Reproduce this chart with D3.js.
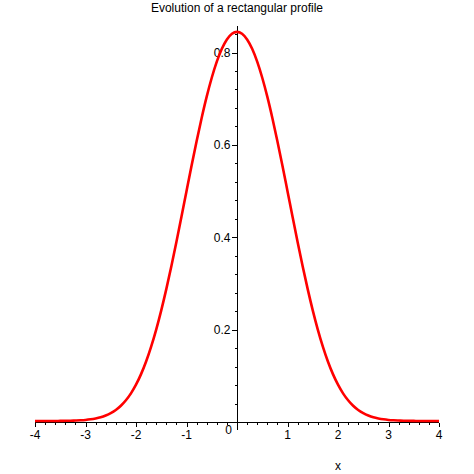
<!DOCTYPE html>
<html>
<head>
<meta charset="utf-8">
<script src="https://cdn.jsdelivr.net/npm/d3@7"></script>
<style>
html,body{margin:0;padding:0;background:#fff;}
svg{display:block;}
text{font-family:"Liberation Sans",Arial,sans-serif;fill:#000;}
</style>
</head>
<body>
<svg id="chart" width="474" height="474"></svg>
<script>
const title = "Evolution of a rectangular profile";
const xLabel = "x";
const xValues = [-4,-3.9,-3.8,-3.7,-3.6,-3.5,-3.4,-3.3,-3.2,-3.1,-3,-2.9,-2.8,-2.7,-2.6,-2.5,-2.4,-2.3,-2.2,-2.1,-2,-1.9,-1.8,-1.7,-1.6,-1.5,-1.4,-1.3,-1.2,-1.1,-1,-0.9,-0.8,-0.7,-0.6,-0.5,-0.4,-0.3,-0.2,-0.1,0,0.1,0.2,0.3,0.4,0.5,0.6,0.7,0.8,0.9,1,1.1,1.2,1.3,1.4,1.5,1.6,1.7,1.8,1.9,2,2.1,2.2,2.3,2.4,2.5,2.6,2.7,2.8,2.9,3,3.1,3.2,3.3,3.4,3.5,3.6,3.7,3.8,3.9,4];
const yValues = [0,0,0,0.0001,0.0001,0.0002,0.0004,0.0006,0.0010,0.0015,0.0023,0.0036,0.0055,0.0081,0.0119,0.0170,0.0239,0.0330,0.0449,0.0599,0.0786,0.1015,0.1289,0.1610,0.1979,0.2396,0.2855,0.3352,0.3877,0.4423,0.4977,0.5527,0.6059,0.6562,0.7024,0.7433,0.7781,0.8059,0.8262,0.8386,0.8427,0.8386,0.8262,0.8059,0.7781,0.7433,0.7024,0.6562,0.6059,0.5527,0.4977,0.4423,0.3877,0.3352,0.2855,0.2396,0.1979,0.1610,0.1289,0.1015,0.0786,0.0599,0.0449,0.0330,0.0239,0.0170,0.0119,0.0081,0.0055,0.0036,0.0023,0.0015,0.0010,0.0006,0.0004,0.0002,0.0001,0.0001,0,0,0];
const xTicks = [-4,-3,-2,-1,0,1,2,3,4];
const xMinorTicks = d3.range(-40,41,2).map(v=>v/10);
const yTicks = [0.2,0.4,0.6,0.8];
const yMinorTicks = d3.range(1,22).map(v=>v*0.04);

const svg = d3.select("#chart");
const x = d3.scaleLinear().domain([-4,4]).range([35,439]);
const y = d3.scaleLinear().domain([0,0.8575]).range([422,26]);
const x0 = Math.round(x(0))+0.5, y0 = Math.round(y(0))+0.5;

// title
svg.append("text").attr("x",237).attr("y",12).attr("text-anchor","middle")
  .attr("font-size",12).text(title);

const ax = svg.append("g").attr("stroke","#000").attr("stroke-width",1).attr("shape-rendering","crispEdges");
// x axis line
ax.append("line").attr("x1",x(-4)).attr("x2",x(4)).attr("y1",y0).attr("y2",y0);
// y axis line
ax.append("line").attr("x1",x0).attr("x2",x0).attr("y1",y(0.8575)).attr("y2",y0+7);
// x minor ticks
ax.selectAll(".xm").data(xMinorTicks).join("line")
  .attr("x1",d=>Math.round(x(d))+0.5).attr("x2",d=>Math.round(x(d))+0.5)
  .attr("y1",y0).attr("y2",y0+2.5);
// x major ticks
ax.selectAll(".xM").data(xTicks).join("line")
  .attr("x1",d=>Math.round(x(d))+0.5).attr("x2",d=>Math.round(x(d))+0.5)
  .attr("y1",y0).attr("y2",y0+4);
// y minor ticks
ax.selectAll(".ym").data(yMinorTicks.filter(v=>v<0.857)).join("line")
  .attr("x1",x0-3).attr("x2",x0)
  .attr("y1",d=>Math.round(y(d))+0.5).attr("y2",d=>Math.round(y(d))+0.5);
// y major ticks
ax.selectAll(".yM").data(yTicks).join("line")
  .attr("x1",x0-6).attr("x2",x0)
  .attr("y1",d=>Math.round(y(d))+0.5).attr("y2",d=>Math.round(y(d))+0.5);

// x tick labels
svg.selectAll(".xl").data(xTicks).join("text")
  .attr("x",d=> d===0 ? x0-9 : x(d))
  .attr("y",d=> d===0 ? y0+11 : y0+16)
  .attr("text-anchor","middle").attr("font-size",12)
  .text(d=>d<0 ? "-"+Math.abs(d) : String(d));
// y tick labels
svg.selectAll(".yl").data(yTicks).join("text")
  .attr("x",x0-7).attr("y",d=>y(d)+4.5)
  .attr("text-anchor","end").attr("font-size",12)
  .text(d=>d.toFixed(1));

// x label
svg.append("text").attr("x",338).attr("y",470).attr("text-anchor","middle")
  .attr("font-size",12).text(xLabel);

// curve
const pts = xValues.map((v,i)=>[v,yValues[i]]);
svg.append("path").datum(pts)
  .attr("fill","none").attr("stroke","#ff0000").attr("stroke-width",2.6)
  .attr("stroke-linejoin","round")
  .attr("d",d3.line().x(d=>x(d[0])).y(d=>y(d[1])-1).curve(d3.curveMonotoneX));
</script>
</body>
</html>
